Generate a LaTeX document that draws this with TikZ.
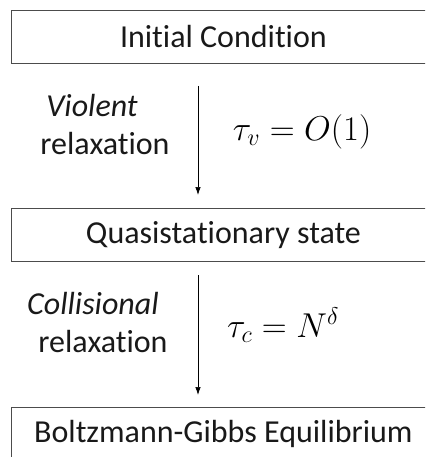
\documentclass[tikz,border=0pt]{standalone}
\usepackage{fix-cm}
\usepackage{fontspec}
\usetikzlibrary{arrows.meta}
\newfontfamily\qfont{Carlito}[Ligatures={NoCommon,NoRequired,NoContextual}]
\begin{document}
\begin{tikzpicture}[x=1pt,y=1pt,
  boxstyle/.style={draw=black!70, line width=0.9pt, minimum width=424pt, minimum height=53pt, inner sep=0pt, anchor=north west, font=\fontsize{32}{38}\qfont, text=black!90},
  sidelabel/.style={font=\fontsize{32}{40}\qfont, inner sep=0pt, anchor=base, text=black!90},
  mathlabel/.style={font=\fontsize{34.5}{40}\selectfont, inner sep=0pt},
  flow/.style={line width=0.7pt, -{Latex[length=8pt,width=5.5pt]}}]
\useasboundingbox (0,0) rectangle (425,-457);
\clip (0,0) rectangle (425,-457);
\node[boxstyle] (b1) at (11,-10) {Initial Condition};
\node[boxstyle] (b2) at (11,-208) {Quasistationary state};
\node[boxstyle] (b3) at (11,-407) {Boltzmann-Gibbs Equilibrium};
\coordinate (a1s) at (198,-86);
\coordinate (a1e) at (198,-195);
\coordinate (a2s) at (198,-275);
\coordinate (a2e) at (198,-395);
\draw[flow] (a1s) -- (a1e);
\draw[flow] (a2s) -- (a2e);
\node[sidelabel] (l1a) at (92,-117) {\itshape Violent};
\node[sidelabel] (l1b) at (105,-154) {relaxation};
\node[mathlabel] (m1) at (302,-132) {$\tau_v = O(1)$};
\node[sidelabel] (l2a) at (93,-314) {\itshape Collisional};
\node[sidelabel] (l2b) at (103,-352) {relaxation};
\node[mathlabel] (m2) at (283,-325) {$\tau_c = N^\delta$};
\end{tikzpicture}
\end{document}
